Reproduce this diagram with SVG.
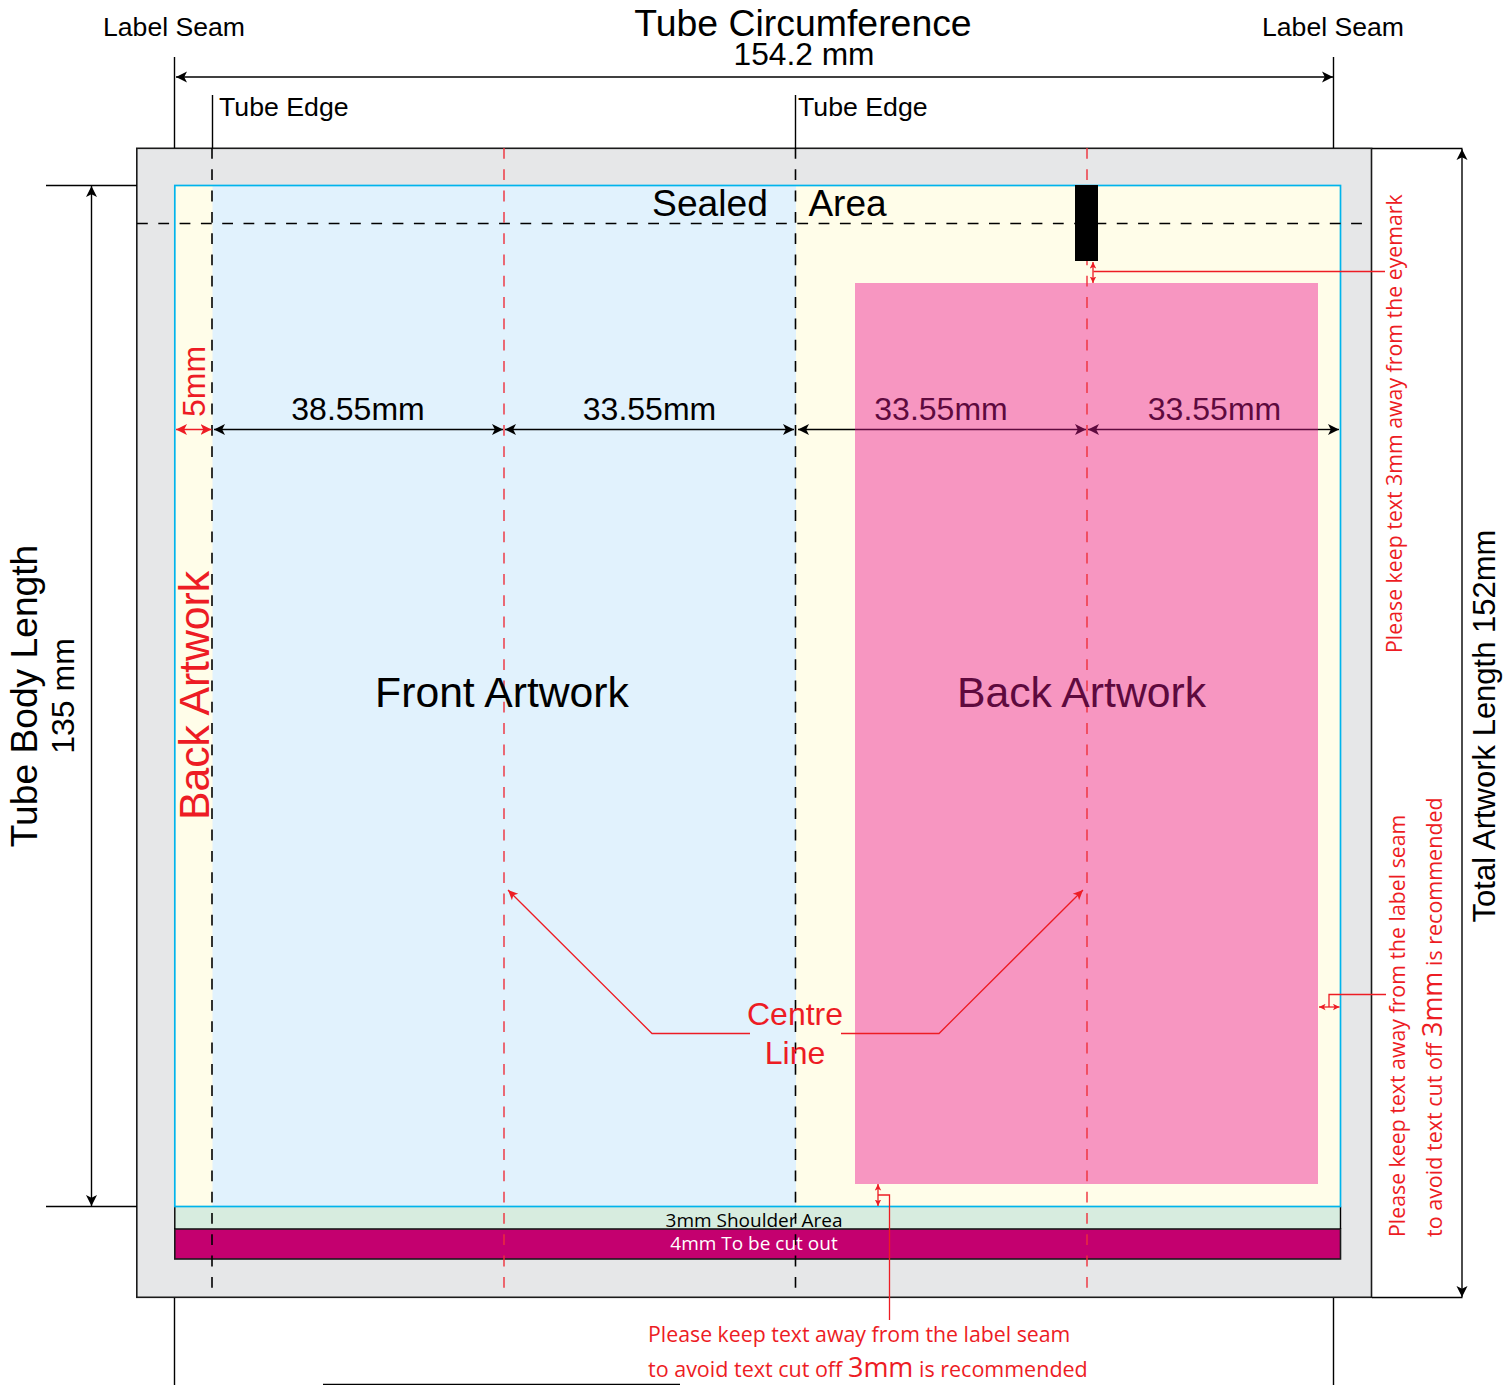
<svg xmlns="http://www.w3.org/2000/svg" width="1511" height="1385" viewBox="0 0 1511 1385">
<defs>
<marker id="ab" markerUnits="userSpaceOnUse" markerWidth="12" markerHeight="12" refX="11" refY="6" orient="auto-start-reverse"><path d="M0,0.500 L11,6 L0,11.500 L2.800,6 Z" fill="#000"/></marker>
<marker id="am" markerUnits="userSpaceOnUse" markerWidth="12" markerHeight="12" refX="11" refY="6" orient="auto-start-reverse"><path d="M0,0.500 L11,6 L0,11.500 L2.800,6 Z" fill="#5e0a3e"/></marker>
<marker id="ar" markerUnits="userSpaceOnUse" markerWidth="12" markerHeight="12" refX="11" refY="6" orient="auto-start-reverse"><path d="M0,0.500 L11,6 L0,11.500 L2.800,6 Z" fill="#ed1c24"/></marker>
<marker id="ap" markerUnits="userSpaceOnUse" markerWidth="11" markerHeight="10" refX="10" refY="5" orient="auto-start-reverse"><path d="M0,0.5 L10,5 L0,9.5 L2.5,5 Z" fill="#ed1c24"/></marker>
<marker id="as" markerUnits="userSpaceOnUse" markerWidth="7" markerHeight="7" refX="6.500" refY="3.500" orient="auto-start-reverse"><path d="M0,0.300 L6.500,3.500 L0,6.700 L1.500,3.500 Z" fill="#ed1c24"/></marker>
</defs>
<style>
text{font-family:"Liberation Sans",Arial,sans-serif;fill:#000}
.o{font-family:"Open Sans","Noto Sans",sans-serif}
.r{fill:#ed1c24}
.m{fill:#5e0a3e}
.k{stroke:#000;stroke-width:1.4;fill:none}
.d{stroke:#000;stroke-width:1.6;fill:none;stroke-dasharray:10.800 10.500}
.c{stroke:#ee2f3a;stroke-width:1.4;fill:none;stroke-dasharray:10.800 10.500}
.l{stroke:#ed1c24;stroke-width:1.3;fill:none}
</style>

<g id="artwork-panel">
<rect x="136.800" y="148.300" width="1234.700" height="1149" fill="#e6e7e8" stroke="#1a1a1a" stroke-width="1.6"/>
<rect x="174.800" y="185.500" width="1165.700" height="1021" fill="#fffde9"/>
<rect x="212.500" y="186" width="583.500" height="1020" fill="#e1f2fd"/>
<rect x="855" y="283" width="463" height="901" fill="#f796c1"/>
<rect x="174.800" y="1206.500" width="1165.700" height="22.500" fill="#d7ecdf"/>
<rect x="174.800" y="1229" width="1165.700" height="30" fill="#c4006f" stroke="#1a1a1a" stroke-width="1.6"/>
<path d="M174.800,1206.500V1229M1340.500,1206.500V1229" class="k"/>
<rect x="174.800" y="185.500" width="1165.700" height="1021" fill="none" stroke="#00b4ec" stroke-width="1.700"/>
</g>

<g id="connectors">
<path class="k" d="M174.500,57V148M1333.500,57V148M174.500,1298V1385M1333.500,1298V1385M212.500,95V148M795.500,95V148M46,185.500H137M46,1206.500H137M1372,148.500H1462.500M1372,1297.500H1462.500M323,1384.500H680"/>
<path class="k" d="M176,77H1333" marker-start="url(#ab)" marker-end="url(#ab)"/>
<path class="k" d="M91.500,186V1206" marker-start="url(#ab)" marker-end="url(#ab)"/>
<path class="k" d="M1462,149V1297" marker-start="url(#ab)" marker-end="url(#ab)"/>
<path class="d" d="M212,148V1291M795.500,148V1291"/>
<path class="d" d="M137,223.500H1366"/>
<path class="c" d="M504,148V1291M1087,148V1291"/>
<path class="k" d="M214,429.500H503" marker-start="url(#ab)" marker-end="url(#ab)"/>
<path class="k" d="M505,429.500H794" marker-start="url(#ab)" marker-end="url(#ab)"/>
<path class="k" d="M798,429.500H855"  marker-start="url(#ab)"/>
<path d="M855,429.500H1086" stroke="#5e0a3e" stroke-width="1.400" marker-end="url(#am)"/>
<path d="M1088,429.500H1318" stroke="#5e0a3e" stroke-width="1.400" marker-start="url(#am)"/>
<path class="k" d="M1318,429.500H1339" marker-end="url(#ab)"/>
<path class="l" d="M176,429.500H211.500" marker-start="url(#ar)" marker-end="url(#ar)"/>
<path class="l" d="M1093,262V283" marker-start="url(#as)" marker-end="url(#as)"/>
<path class="l" d="M1093.500,271.500H1385"/>
<path class="l" d="M878,1184V1206" marker-start="url(#as)" marker-end="url(#as)"/>
<path class="l" d="M878,1195H889.500V1320"/>
<path class="l" d="M1319,1007H1339.500" marker-start="url(#as)" marker-end="url(#as)"/>
<path class="l" d="M1329,1007V994.500H1386"/>
<path class="l" d="M750,1033.500H652L508,890" marker-end="url(#ap)"/>
<path class="l" d="M841,1033.500H939L1083,890" marker-end="url(#ap)"/>
</g>

<g id="eyemark"><rect x="1075" y="185" width="23" height="76" fill="#000"/></g>

<g id="labels">
<text x="174" y="36" font-size="26.600" text-anchor="middle">Label Seam</text>
<text x="1333" y="36" font-size="26.600" text-anchor="middle">Label Seam</text>
<text x="803" y="36" font-size="37.400" text-anchor="middle">Tube Circumference</text>
<text x="804" y="65" font-size="31.700" text-anchor="middle">154.2 mm</text>
<text x="219" y="116" font-size="26.700">Tube Edge</text>
<text x="798" y="116" font-size="26.700">Tube Edge</text>
<text x="710" y="216" font-size="37.200" text-anchor="middle">Sealed</text>
<text x="847.500" y="216" font-size="37" text-anchor="middle">Area</text>
<text x="358" y="420" font-size="32" text-anchor="middle">38.55mm</text>
<text x="649.500" y="420" font-size="32" text-anchor="middle">33.55mm</text>
<text x="941" y="420" font-size="32" text-anchor="middle" class="m">33.55mm</text>
<text x="1214.500" y="420" font-size="32" text-anchor="middle" class="m">33.55mm</text>
<text x="502" y="707" font-size="42.700" text-anchor="middle">Front Artwork</text>
<text x="1081.500" y="707" font-size="42.700" text-anchor="middle" class="m">Back Artwork</text>
<text x="795" y="1025" font-size="32" text-anchor="middle" class="r">Centre</text>
<text x="795" y="1064" font-size="32" text-anchor="middle" class="r">Line</text>
<text transform="translate(204.500,417) rotate(-90)" font-size="32" class="r">5mm</text>
<text transform="translate(209,820) rotate(-90)" font-size="42.700" class="r">Back Artwork</text>
<text transform="translate(37,696) rotate(-90)" font-size="37.200" text-anchor="middle">Tube Body Length</text>
<text transform="translate(74,696) rotate(-90)" font-size="32" text-anchor="middle">135 mm</text>
<text transform="translate(1495,726) rotate(-90)" font-size="31" text-anchor="middle">Total Artwork Length 152mm</text>
<text class="o r" transform="translate(1402,653) rotate(-90)" font-size="21.300">Please keep text 3mm away from the eyemark</text>
<text class="o r" transform="translate(1405,1237) rotate(-90)" font-size="21.300">Please keep text away from the label seam</text>
<text class="o r" transform="translate(1442,1237) rotate(-90)" font-size="21.500">to avoid text cut off <tspan font-size="27">3mm</tspan> is recommended</text>
<text class="o r" x="648" y="1342" font-size="21.300">Please keep text away from the label seam</text>
<text class="o r" x="648" y="1377" font-size="21.500">to avoid text cut off <tspan font-size="27">3mm</tspan> is recommended</text>
<text class="o" x="754" y="1227" font-size="19" text-anchor="middle">3mm Shoulder Area</text>
<text class="o" x="754" y="1250" font-size="19" text-anchor="middle" style="fill:#fff">4mm To be cut out</text>
</g>
</svg>
